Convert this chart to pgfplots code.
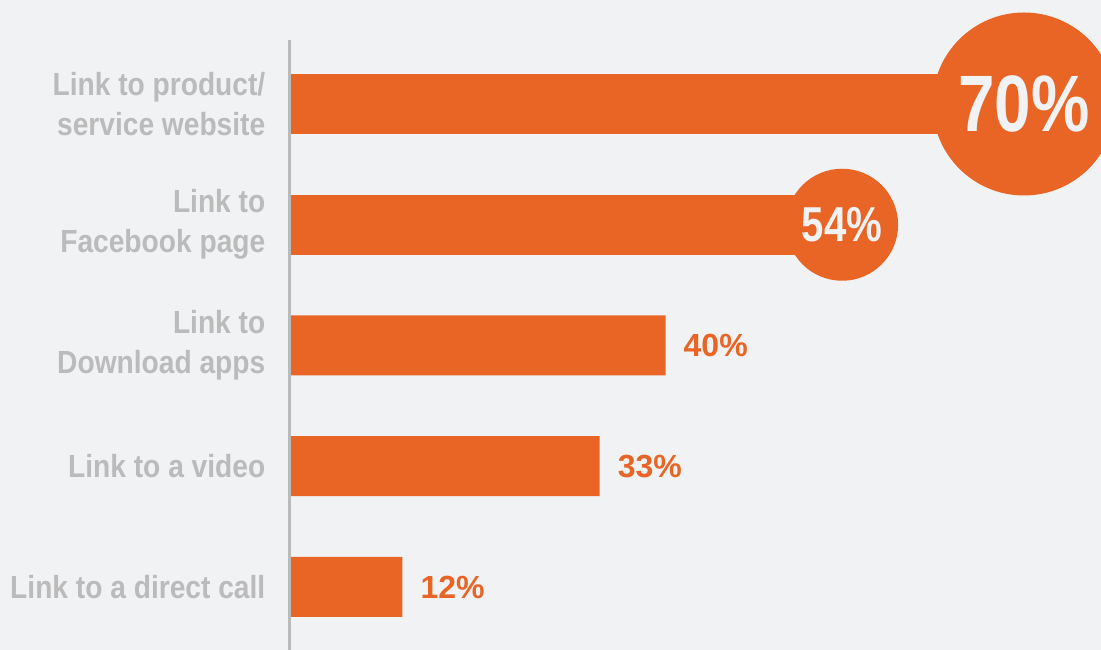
\documentclass[border=0pt]{standalone}
\usepackage{pgfplots}
\pgfplotsset{compat=1.18}
\usepackage{fontspec}
\setmainfont{Liberation Sans}
\newfontfamily\labfont[FakeStretch=0.88]{Liberation Sans}
\newfontfamily\condfont[FakeStretch=0.82]{Liberation Sans}
\definecolor{bg}{HTML}{F1F2F4}
\definecolor{barc}{HTML}{E86526}
\definecolor{lab}{HTML}{BBBBBB}
\definecolor{axl}{HTML}{BABABA}
\begin{document}
\begin{tikzpicture}[x=1pt,y=1pt]
\clip (0,0) rectangle (1101,650);
\fill[bg] (0,0) rectangle (1101,650);
\begin{axis}[
  at={(289.5pt,0pt)}, anchor=south west,
  scale only axis, width=811.5pt, height=610pt,
  xmin=0, xmax=86.33,
  ymin=-0.530, ymax=4.522, y dir=reverse,
  hide x axis, axis y line*=left,
  axis line style={draw=axl, line width=3pt},
  ytick={0,1,2,3,4},
  yticklabels={{Link to product/\\service website},{Link to\\Facebook page},{Link to\\Download apps},{Link to a video},{Link to a direct call}},
  yticklabel style={align=right, text=lab, font=\labfont\bfseries\fontsize{32}{40}\selectfont, inner sep=0pt, xshift=-24pt},
  major tick length=0pt,
  clip=false, axis on top,
  /pgf/number format/assume math mode=true,
  mybar/.style={xbar, bar width=60pt, bar shift=0pt, fill=barc, draw=none},
  point meta=x,
]
\addplot[mybar, nodes near coords={\pgfmathprintnumber{\pgfplotspointmeta}\%},
  nodes near coords style={anchor=west, inner sep=0pt, xshift=18pt, text=barc, font=\bfseries\fontsize{32}{32}\selectfont}]
  coordinates {(40,2) (33,3) (12,4)};
\addplot[mybar, nodes near coords={\pgfmathprintnumber{\pgfplotspointmeta}\%},
  nodes near coords style={circle, fill=barc, minimum size=112pt, inner sep=0pt, anchor=center, xshift=45pt, text=bg, font=\condfont\bfseries\fontsize{49}{49}\selectfont}]
  coordinates {(54,1)};
\addplot[mybar, nodes near coords={\pgfmathprintnumber{\pgfplotspointmeta}\%},
  nodes near coords style={circle, fill=barc, minimum size=183pt, inner sep=0pt, anchor=center, xshift=76.5pt, text=bg, font=\condfont\bfseries\fontsize{80}{80}\selectfont}]
  coordinates {(70,0)};
\end{axis}
\end{tikzpicture}
\end{document}
